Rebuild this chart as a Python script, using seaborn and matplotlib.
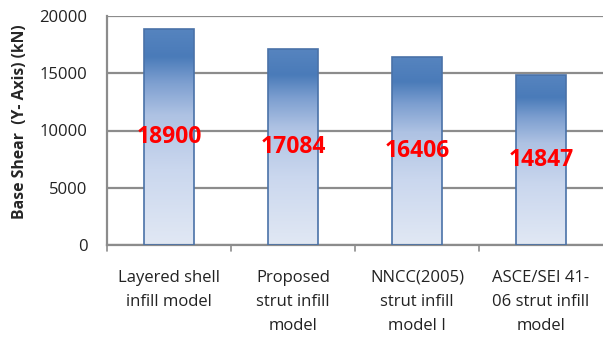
import numpy as np
import pandas as pd
import matplotlib
matplotlib.use("Agg")
import matplotlib.pyplot as plt
from matplotlib.colors import LinearSegmentedColormap
import seaborn as sns

categories = ["Layered shell\ninfill model", "Proposed\nstrut infill\nmodel",
              "NNCC(2005)\nstrut infill\nmodel I", "ASCE/SEI 41-\n06 strut infill\nmodel"]
base_shear = [18900, 17084, 16406, 14847]
y_ticks = [0, 5000, 10000, 15000, 20000]

df = pd.DataFrame({"model": categories, "shear": base_shear})

sns.set_style("white")
plt.rcParams["font.family"] = ["Open Sans", "DejaVu Sans"]

fig = plt.figure(figsize=(6.03, 3.38), dpi=100)
ax = fig.add_axes([107 / 603, 1 - 245 / 338, (603 - 107) / 603, (245 - 16) / 338])

sns.barplot(data=df, x="model", y="shear", ax=ax, width=0.4,
            color="#4f81bd", edgecolor="#4a72a8", linewidth=1.2, zorder=3)

ax.set_ylim(0, 20000)
ax.set_xlim(-0.5, len(categories) - 0.5)
ax.set_yticks(y_ticks)
ax.set_yticklabels([str(v) for v in y_ticks], fontsize=12, color="#222222")
ax.yaxis.grid(True, color="#8c8c8c", linewidth=1.6, zorder=0)
ax.set_axisbelow(True)

# vertical gradient fill inside each bar (light at the base, dark near the top)
cmap = LinearSegmentedColormap.from_list(
    "bar", [(0.0, "#e1e8f4"), (0.35, "#cad7ee"), (0.6, "#aec2e3"),
            (0.75, "#7d9fd0"), (0.87, "#4a7bb9"), (1.0, "#5684bf")])
grad = np.linspace(0, 1, 256).reshape(-1, 1)
for patch in ax.patches:
    x0, y0 = patch.get_x(), patch.get_y()
    w, h = patch.get_width(), patch.get_height()
    patch.set_facecolor("none")
    im = ax.imshow(grad, cmap=cmap, origin="lower", aspect="auto",
                   extent=[x0, x0 + w, y0, y0 + h], zorder=2)
    im.set_clip_path(patch)

ax.set_xlim(-0.5, len(categories) - 0.5)
ax.set_ylim(0, 20000)

# value labels at mid-height of each bar
for i, v in enumerate(base_shear):
    ax.text(i, v / 2, str(v), ha="center", va="center", fontsize=16.5,
            fontweight="bold", color="#ff0000", zorder=5)

ax.set_xlabel("")
ax.set_ylabel("Base Shear  (Y- Axis) (kN)", fontsize=11.3, fontweight="bold")
ax.yaxis.set_label_coords(-0.16, 0.537)
ax.set_xticks(np.arange(len(categories)))
ax.set_xticklabels(categories, fontsize=12, color="#222222", linespacing=1.65)
ax.tick_params(axis="x", length=0, pad=18)
ax.tick_params(axis="y", length=5, width=1.2, color="#8c8c8c", direction="out", pad=9)

# category boundary ticks on the x axis
for b in np.arange(-0.5, len(categories) - 0.5, 1.0):
    ax.plot([b, b], [0, -500], color="#8c8c8c", lw=1.2, clip_on=False, zorder=4)

for side in ["top", "right"]:
    ax.spines[side].set_visible(False)
for side in ["left", "bottom"]:
    ax.spines[side].set_color("#8c8c8c")
    ax.spines[side].set_linewidth(1.6)

fig.savefig("out.png", dpi=100)
